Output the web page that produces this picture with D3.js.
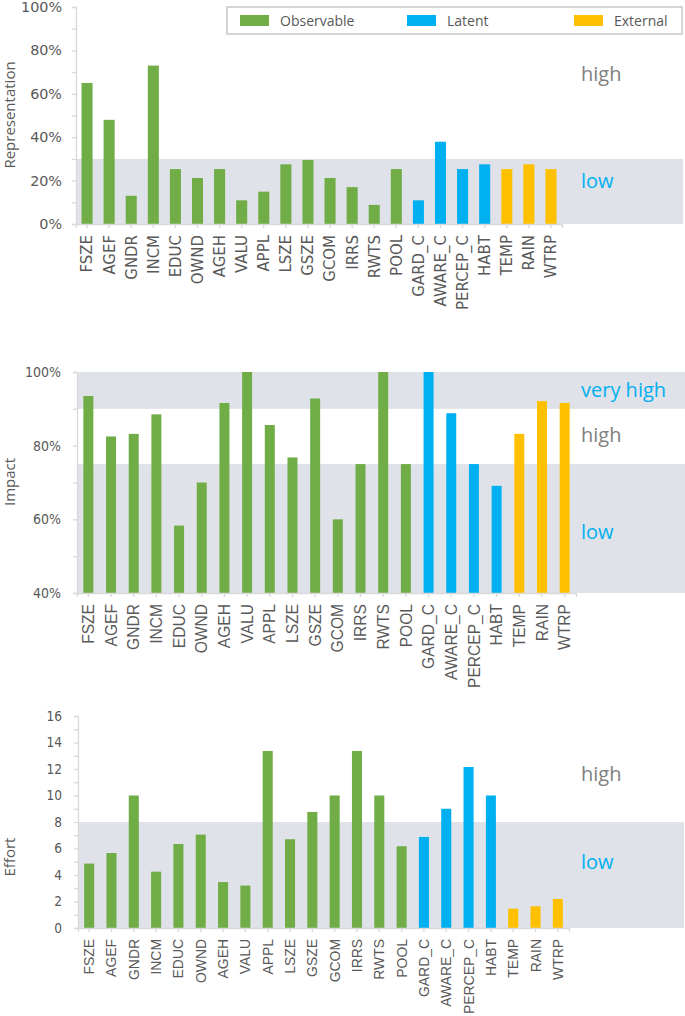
<!DOCTYPE html>
<html><head><meta charset="utf-8">
<script src="https://cdn.jsdelivr.net/npm/d3@7"></script>
<style>
body{margin:0;background:#fff;}
svg{display:block;}
</style></head>
<body>
<svg id="chart" width="685" height="1016"></svg>
<script>
const categories = ["FSZE","AGEF","GNDR","INCM","EDUC","OWND","AGEH","VALU","APPL","LSZE","GSZE","GCOM","IRRS","RWTS","POOL","GARD_C","AWARE_C","PERCEP_C","HABT","TEMP","RAIN","WTRP"];
const groups = ["Observable","Observable","Observable","Observable","Observable","Observable","Observable","Observable","Observable","Observable","Observable","Observable","Observable","Observable","Observable","Latent","Latent","Latent","Latent","External","External","External"];
const legendNames = ["Observable","Latent","External"];
const groupColors = ["#70ad47","#00b0f0","#ffc000"];

const representation = [0.65,0.48,0.13,0.73,0.253,0.212,0.253,0.109,0.149,0.275,0.295,0.212,0.17,0.088,0.253,0.109,0.379,0.253,0.275,0.253,0.275,0.253];
const impact = [0.935,0.825,0.832,0.885,0.583,0.70,0.916,1.0,0.856,0.768,0.928,0.60,0.75,1.0,0.75,1.0,0.888,0.75,0.691,0.832,0.921,0.916];
const effort = [4.86,5.66,10.0,4.25,6.34,7.05,3.47,3.2,13.36,6.7,8.76,10.0,13.36,10.0,6.17,6.87,9.0,12.15,10.0,1.46,1.64,2.19];

const repTicks = [0,0.1,0.2,0.3,0.4,0.5,0.6,0.7,0.8,0.9,1.0];
const impTicks = [0.4,0.5,0.6,0.7,0.8,0.9,1.0];
const effTicks = [0,1,2,3,4,5,6,7,8,9,10,11,12,13,14,15,16];

const repBands = [{from:0,to:0.3}];
const impBands = [{from:0.9,to:1.0},{from:0.4,to:0.75}];
const effBands = [{from:0,to:8}];

const repNotes = [{t:"high",v:0.69,c:"#7f7f7f"},{t:"low",v:0.2,c:"#00b0f0"}];
const impNotes = [{t:"very high",v:0.95,c:"#00b0f0"},{t:"high",v:0.83,c:"#7f7f7f"},{t:"low",v:0.565,c:"#00b0f0"}];
const effNotes = [{t:"high",v:11.6,c:"#7f7f7f"},{t:"low",v:4.95,c:"#00b0f0"}];

const svg = d3.select("#chart");
const color = d3.scaleOrdinal().domain(legendNames).range(groupColors);
const bandFill = "#dfe2e9";
const axisCol = "#d9d9d9";
const textCol = "#595959";

function fitFont(sel, family, sample, target, stretch){
  const probe = svg.append("text").style("font-family",family).style("font-size","20px")
    .style("font-stretch",stretch||"normal").text(sample);
  const len = probe.node().getComputedTextLength();
  probe.remove();
  const size = 20*target/len;
  sel.style("font-family",family).style("font-size",size+"px").style("font-stretch",stretch||"normal");
}

function panel(o){
  const g = svg.append("g");
  const x = d3.scaleBand().domain(categories).range([o.x0,o.x1]).paddingInner(o.pad).paddingOuter(o.pad/2);
  const y = d3.scaleLinear().domain(o.domain).range([o.yb,o.yt]);
  g.selectAll("rect.band").data(o.bands).join("rect")
    .attr("x",o.x0).attr("width",o.bandEnd-o.x0)
    .attr("y",d=>y(d.to)).attr("height",d=>y(d.from)-y(d.to))
    .attr("fill",bandFill);
  g.selectAll("rect.bar").data(categories).join("rect")
    .attr("x",d=>x(d)).attr("width",x.bandwidth())
    .attr("y",(d,i)=>y(o.values[i])).attr("height",(d,i)=>y(o.domain[0])-y(o.values[i]))
    .attr("fill",(d,i)=>color(groups[i]));
  const ya = d3.axisLeft(y).tickValues(o.ticks).tickSize(4).tickPadding(o.tpad)
    .tickFormat(d=>o.labelTick(d)?o.fmt(d):"");
  const yg = g.append("g").attr("transform",`translate(${o.x0},0)`).call(ya);
  yg.select(".domain").attr("stroke",axisCol).attr("stroke-width",1.3);
  yg.selectAll(".tick line").attr("stroke",axisCol).attr("stroke-width",1.3);
  const tt = yg.selectAll(".tick text").attr("fill",textCol);
  fitFont(tt, o.tickFont, o.tickSample, o.tickLen, o.stretch);
  const xa = d3.axisBottom(x).tickSize(4).tickSizeOuter(4).tickFormat("");
  const xg = g.append("g").attr("transform",`translate(0,${o.yb})`).call(xa);
  xg.select(".domain").attr("stroke",axisCol).attr("stroke-width",1.3);
  xg.selectAll(".tick line").attr("stroke",axisCol).attr("stroke-width",1.3);
  const cats = g.selectAll("text.cat").data(categories).join("text")
    .attr("transform",d=>`translate(${x(d)+x.bandwidth()/2},${o.yb+o.labGap}) rotate(-90)`)
    .attr("text-anchor","end").attr("dy","0.36em")
    .attr("fill",textCol).text(d=>d);
  fitFont(cats, o.catFont, "PERCEP_C", o.catLen);
  g.append("text").attr("transform",`translate(${o.titleX},${o.titleY}) rotate(-90)`)
    .attr("text-anchor","middle").attr("dy","0.35em")
    .attr("fill",textCol).style("font-family","'Open Sans'").style("font-size","15px")
    .text(o.title);
  g.selectAll("text.note").data(o.notes).join("text")
    .attr("x",581).attr("y",d=>y(d.v)).attr("dy","0.35em")
    .attr("fill",d=>d.c).style("font-family","'Open Sans'").style("font-size","20px")
    .text(d=>d.t);
}

const pct = d3.format(".0%");
panel({x0:76,x1:562,bandEnd:683,pad:0.5,domain:[0,1],yb:224,yt:7,values:representation,ticks:repTicks,
  labelTick:d=>Math.round(d*10)%2===0,fmt:pct,tpad:10,tickFont:"'DejaVu Sans', Verdana, sans-serif",tickSample:"100%",tickLen:41,
  bands:repBands,catFont:"'DejaVu Sans', Verdana, sans-serif",catLen:75,labGap:11,title:"Representation",titleX:10,titleY:115,notes:repNotes});
panel({x0:77,x1:576,bandEnd:685,pad:0.56,domain:[0.4,1],yb:593,yt:372,values:impact,ticks:impTicks,
  labelTick:d=>Math.round(d*10)%2===0,fmt:pct,tpad:12,tickFont:"'DejaVu Sans Condensed','DejaVu Sans', sans-serif",stretch:"condensed",tickSample:"100%",tickLen:36,
  bands:impBands,catFont:"'Liberation Sans', Arial, sans-serif",catLen:84,labGap:11,title:"Impact",titleX:10,titleY:482,notes:impNotes});
panel({x0:78,x1:569,bandEnd:684,pad:0.55,domain:[0,16],yb:928,yt:716,values:effort,ticks:effTicks,
  labelTick:d=>d%2===0,fmt:d=>d,tpad:12,tickFont:"'DejaVu Sans Condensed','DejaVu Sans', sans-serif",stretch:"condensed",tickSample:"16",tickLen:15.5,
  bands:effBands,catFont:"'Liberation Sans', Arial, sans-serif",catLen:75,labGap:11,title:"Effort",titleX:10,titleY:857,notes:effNotes});

const lg = svg.append("g");
lg.append("rect").attr("x",227).attr("y",7).attr("width",455).attr("height",27)
  .attr("fill","#fff").attr("stroke","#c8c8c8").attr("stroke-width",1.5);
const legX = d3.scalePoint().domain(legendNames).range([240,574]);
const li = lg.selectAll("g.li").data(legendNames).join("g")
  .attr("transform",d=>`translate(${legX(d)},0)`);
li.append("rect").attr("x",0).attr("y",15).attr("width",29).attr("height",11).attr("fill",d=>color(d));
li.append("text").attr("x",40).attr("y",21).attr("dy","0.36em")
  .attr("fill",textCol).style("font-family","'Open Sans'").style("font-size","14px").text(d=>d);
</script>
</body></html>
